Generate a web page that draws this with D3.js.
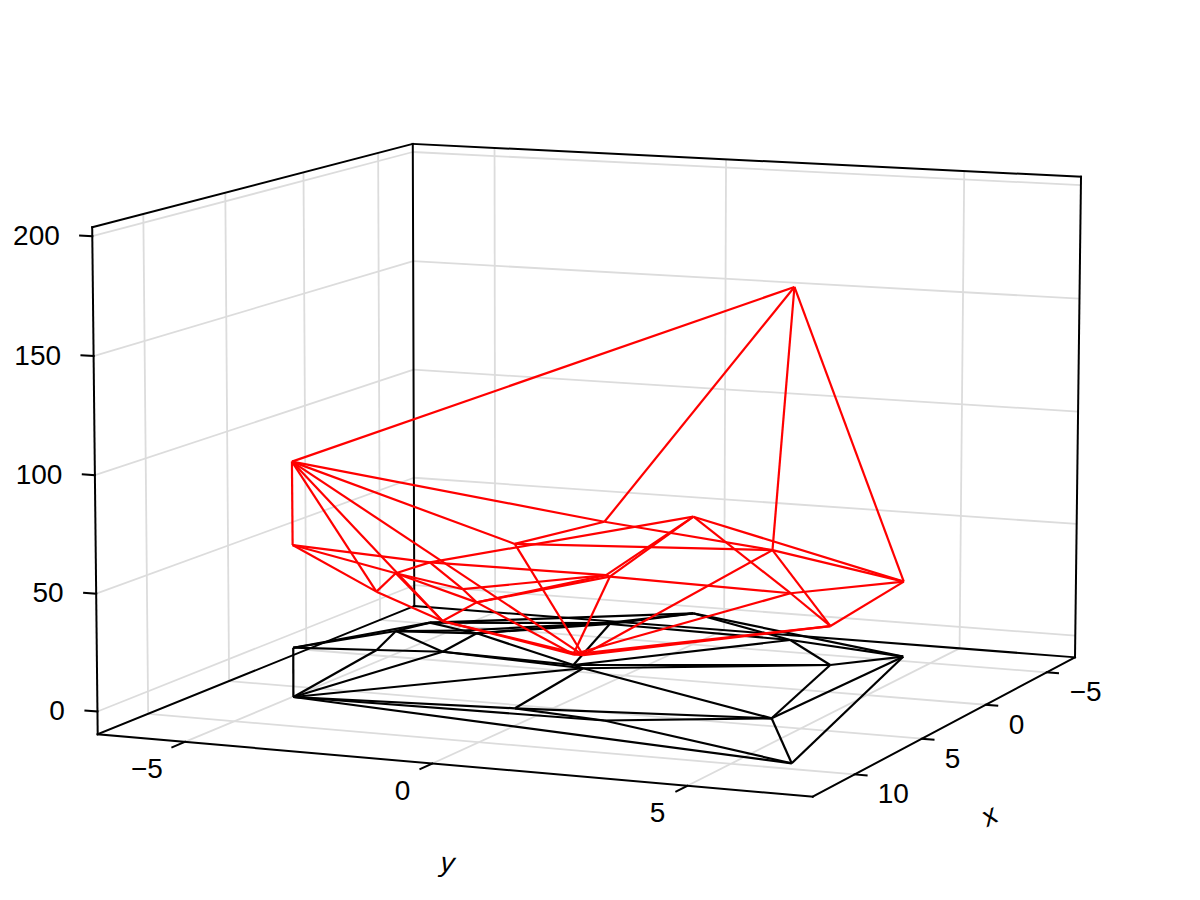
<!DOCTYPE html>
<html><head><meta charset="utf-8"><style>html,body{margin:0;background:#fff}svg{display:block}</style>
<script src="https://cdn.jsdelivr.net/npm/d3@7"></script></head><body><svg id="c" width="1200" height="900"></svg>
<script>
const xLim=[-7.4,13], yLim=[-6.8,7.4], zLim=[-9.7,203.7];
const xTicks=[-5,0,5,10], yTicks=[-5,0,5], zTicks=[0,50,100,150,200];
const vertexNames=["A","B","C","D","E","Q","R","T","F","G","N1","N2","S1","S2","L","I","H","J","K","M"];
const vertexX=[9.17,2.79,2.19,-0.61,1.71,-1.18,-2.15,-1.42,8.27,8.86,2.08,2.41,-4.05,-3.95,-6.41,6.86,12.09,-2.59,-0.67,-3.68];
const vertexY=[-4.05,-6.16,-4.57,-5.05,-3.32,-3.49,-4.80,-3.86,0.20,2.17,-0.46,-0.16,-1.58,-1.47,-0.39,4.93,6.75,5.06,4.07,2.43];
const surfaceZ=[100.6,45.6,25.9,26.0,13.6,13.9,27.3,18.6,69.8,83.6,4.7,5.8,21.7,21.4,44.0,70.9,193.3,33.1,17.1,20.9];
const baseZ=[0,0,0,0,0,0,0,0,0,0,0,0,0,0,0,0,0,0,0,0];
const edgeList=["A-B","A-C","A-E","A-N2","A-F","A-G","A-H","B-C","B-D","B-R","C-D","C-E","D-E","D-R","D-T","D-Q","E-Q","E-N1","E-N2","Q-T","Q-S1","Q-S2","Q-N1","R-T","R-S1","R-L","T-S1","S1-S2","S1-L","S2-L","S2-M","S2-N1","L-M","L-J","M-J","M-K","M-N1","N1-N2","N1-K","N2-F","N2-I","N2-K","F-G","F-I","G-I","G-H","H-I","H-J","I-J","I-K","K-J"];

const sx=d3.scaleLinear().domain(xLim).range([0,1]),sy=d3.scaleLinear().domain(yLim).range([0,1]),sz=d3.scaleLinear().domain(zLim).range([0,1]);
// camera calibration: where the box corners land on the page
const floorCorners={p00:[414.3,606],p10:[97.7,734.3],p01:[1075,657.3],p11:[812.7,796.7]};
const topCorners=[[1,0,[92.3,227.7]],[0,0,[412.7,143.3]],[0,1,[1081,177]]];
function quad(p00,p10,p01,p11){const dx1=p10[0]-p11[0],dx2=p01[0]-p11[0],s_x=p00[0]-p10[0]+p11[0]-p01[0],dy1=p10[1]-p11[1],dy2=p01[1]-p11[1],s_y=p00[1]-p10[1]+p11[1]-p01[1],det=dx1*dy2-dx2*dy1,g=(s_x*dy2-dx2*s_y)/det,h=(dx1*s_y-s_x*dy1)/det;return [[p10[0]-p00[0]+g*p10[0],p01[0]-p00[0]+h*p01[0],p00[0]],[p10[1]-p00[1]+g*p10[1],p01[1]-p00[1]+h*p01[1],p00[1]],[g,h,1]];}
const H=quad(floorCorners.p00,floorCorners.p10,floorCorners.p01,floorCorners.p11);
function solve(A,b){const n=b.length,M=A.map((r,i)=>[...r,b[i]]);for(let i=0;i<n;i++){let p=i;for(let k=i+1;k<n;k++)if(Math.abs(M[k][i])>Math.abs(M[p][i]))p=k;[M[i],M[p]]=[M[p],M[i]];for(let k=0;k<n;k++)if(k!==i){const f=M[k][i]/M[i][i];for(let j=i;j<=n;j++)M[k][j]-=f*M[i][j];}}return M.map((r,i)=>r[n]/r[i]);}
const base=(u,v)=>[H[0][0]*u+H[0][1]*v+H[0][2],H[1][0]*u+H[1][1]*v+H[1][2],H[2][0]*u+H[2][1]*v+H[2][2]];
const rows=[],rhs=[];topCorners.forEach(([u,v,p])=>{const b=base(u,v);rows.push([1,0,-p[0]]);rhs.push(p[0]*b[2]-b[0]);rows.push([0,1,-p[1]]);rhs.push(p[1]*b[2]-b[1]);});
const Z=solve([0,1,2].map(i=>[0,1,2].map(j=>d3.sum(rows,r=>r[i]*r[j]))),[0,1,2].map(i=>d3.sum(rows,(r,k)=>r[i]*rhs[k])));
function proj(x,y,z){const b=base(sx(x),sy(y)),t=sz(z),w=b[2]+t*Z[2];return [(b[0]+t*Z[0])/w,(b[1]+t*Z[1])/w];}

const svg=d3.select("#c");
const gridG=svg.append("g").attr("stroke","#dcdcdc").attr("stroke-width",1.8);
const frameG=svg.append("g").attr("stroke","#000").attr("stroke-width",2).attr("stroke-linecap","square");
const L=(g,a,b)=>g.append("line").attr("x1",a[0]).attr("y1",a[1]).attr("x2",b[0]).attr("y2",b[1]);
zTicks.forEach(z=>{L(gridG,proj(xLim[1],yLim[0],z),proj(xLim[0],yLim[0],z));L(gridG,proj(xLim[0],yLim[0],z),proj(xLim[0],yLim[1],z));});
xTicks.forEach(x=>{L(gridG,proj(x,yLim[0],zLim[0]),proj(x,yLim[0],zLim[1]));L(gridG,proj(x,yLim[0],zLim[0]),proj(x,yLim[1],zLim[0]));});
yTicks.forEach(y=>{L(gridG,proj(xLim[0],y,zLim[0]),proj(xLim[0],y,zLim[1]));L(gridG,proj(xLim[0],y,zLim[0]),proj(xLim[1],y,zLim[0]));});
const [x0,x1]=xLim,[y0,y1]=yLim,[z0,z1]=zLim;
[[[x1,y0,z0],[x1,y1,z0]],[[x1,y1,z0],[x0,y1,z0]],[[x1,y0,z0],[x0,y0,z0]],[[x0,y0,z0],[x0,y1,z0]],[[x1,y0,z0],[x1,y0,z1]],[[x0,y0,z0],[x0,y0,z1]],[[x0,y1,z0],[x0,y1,z1]],[[x1,y0,z1],[x0,y0,z1]],[[x0,y0,z1],[x0,y1,z1]]].forEach(([a,b])=>L(frameG,proj(...a),proj(...b)));
xTicks.forEach(x=>L(frameG,proj(x,y1,z0),proj(x,y1+0.23,z0)));
yTicks.forEach(y=>L(frameG,proj(x1,y,z0),proj(x1+0.75,y,z0)));
zTicks.forEach(z=>L(frameG,proj(x1,y0,z),proj(x1,y0-0.25,z)));

const edgePairs=edgeList.map(e=>e.split("-").map(n=>vertexNames.indexOf(n)));
const line=d3.line();
function mesh(zs,color){svg.append("g").attr("fill","none").attr("stroke",color).attr("stroke-width",2.2).attr("stroke-linejoin","round")
  .selectAll("path").data(edgePairs).join("path").attr("d",([a,b])=>line([proj(vertexX[a],vertexY[a],zs[a]),proj(vertexX[b],vertexY[b],zs[b])]));}
mesh(baseZ,"#000");
mesh(surfaceZ,"#f00");

const fam="'Liberation Sans',Helvetica,Arial,sans-serif";
const T=(s,x,y,a)=>svg.append("text").text(s).attr("x",x).attr("y",y).attr("text-anchor",a).attr("font-family",fam).attr("font-size",28).attr("dy","0.35em").attr("fill","#000");
const fmt=v=>String(v).replace("-","−");
xTicks.forEach(x=>{const p=proj(x,y1,z0);T(fmt(x),p[0]+23,p[1]+19,"start");});
yTicks.forEach(y=>{const p=proj(x1,y,z0);T(fmt(y),p[0]-22,p[1]+26.5,"end");});
zTicks.forEach(z=>{const p=proj(x1,y0,z);T(fmt(z),p[0]-32.5,p[1]-1,"end");});
function axisLabel(s,p,dx,dy,rot){svg.append("text").text(s).attr("transform",`translate(${p[0]+dx},${p[1]+dy}) rotate(${rot})`).attr("text-anchor","middle").attr("dy","0.25em").attr("font-family",fam).attr("font-style","italic").attr("font-size",28).attr("fill","#000");}
axisLabel("y",proj(x1,(y0+y1)/2,z0),0,100,5);
axisLabel("x",proj((x0+x1)/2,y1,z0),40,94,-28);
</script></body></html>
